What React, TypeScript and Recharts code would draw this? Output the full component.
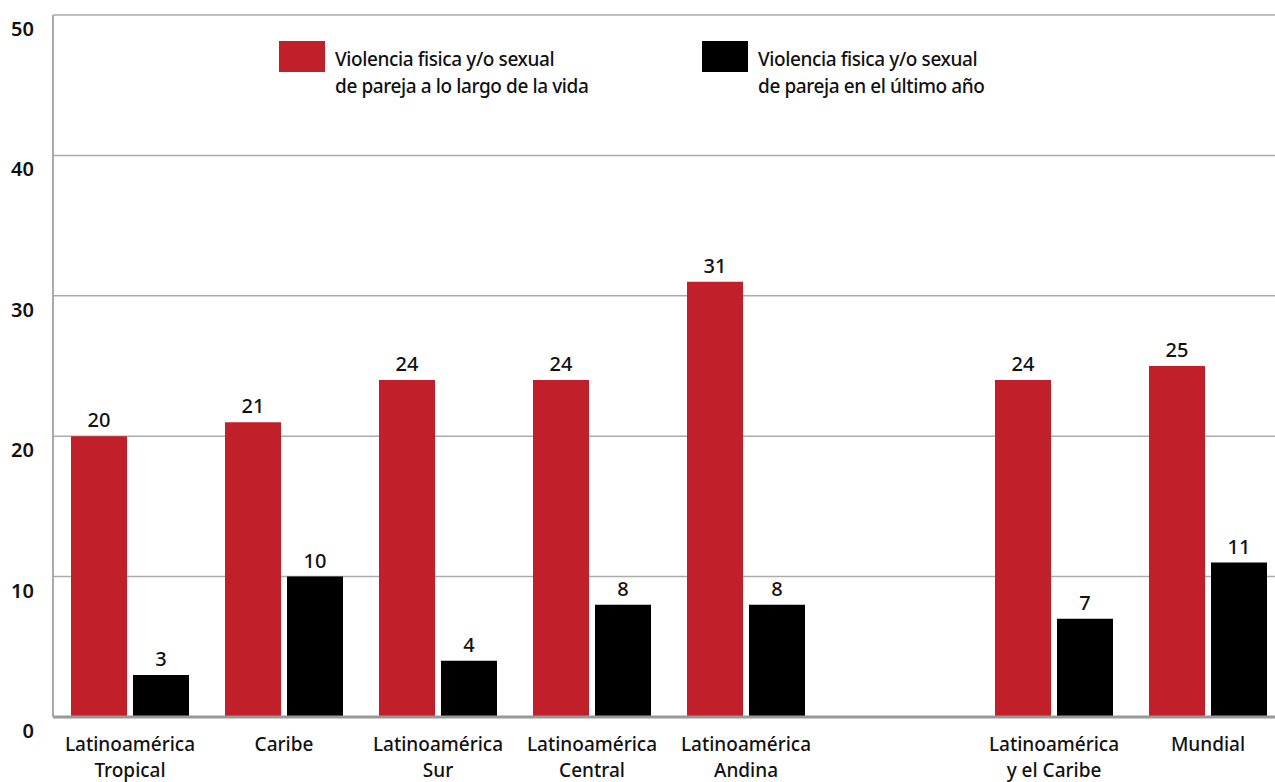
import React from "react";
import { BarChart, Bar, XAxis, YAxis, CartesianGrid, LabelList } from "recharts";

const categories = [
  "Latinoamérica\nTropical",
  "Caribe",
  "Latinoamérica\nSur",
  "Latinoamérica\nCentral",
  "Latinoamérica\nAndina",
  "",
  "Latinoamérica\ny el Caribe",
  "Mundial",
];
const lifetimeValues = [20, 21, 24, 24, 31, null, 24, 25];
const lastYearValues = [3, 10, 4, 8, 8, null, 7, 11];
const yTicks = [0, 10, 20, 30, 40, 50];

const seriesNames = [
  "Violencia fisica y/o sexual\nde pareja a lo largo de la vida",
  "Violencia fisica y/o sexual\nde pareja en el último año",
];

const RED = "#C1202A";
const FONT = "'Noto Sans', sans-serif";

const data = categories.map((name, i) => ({
  name,
  vida: lifetimeValues[i],
  anio: lastYearValues[i],
}));

const CategoryTick = (props: any) => {
  const { x, y, payload } = props;
  const lines = String(payload.value).split("\n");
  return (
    <text x={x} y={y + 26} textAnchor="middle" fontFamily={FONT} fontSize={19} fontWeight={500} fill="#111">
      {lines.map((l, i) => (
        <tspan key={i} x={x} dy={i === 0 ? 0 : 26}>
          {l}
        </tspan>
      ))}
    </text>
  );
};

const ValueTick = (props: any) => {
  const { y, payload } = props;
  return (
    <text x={34} y={y + 21} textAnchor="end" fontFamily={FONT} fontSize={20} fontWeight={600} fill="#111">
      {payload.value}
    </text>
  );
};

const LegendItem = ({ color, label, left }: { color: string; label: string; left: number }) => (
  <div style={{ position: "absolute", left, top: 41, display: "flex", alignItems: "flex-start" }}>
    <div style={{ width: 46, height: 31, background: color }} />
    <div
      style={{
        marginLeft: 10,
        marginTop: 5,
        fontFamily: FONT,
        fontSize: 19,
        fontWeight: 500,
        lineHeight: "27px",
        letterSpacing: -0.4,
        color: "#111",
        whiteSpace: "pre",
      }}
    >
      {label}
    </div>
  </div>
);

export default function App() {
  return (
    <div style={{ position: "fixed", left: 0, top: 0, width: 1275, height: 782, overflow: "hidden", background: "#fff" }}>
      <BarChart
        width={1290}
        height={782}
        data={data}
        margin={{ top: 15, right: 5, left: 0, bottom: 0 }}
        barCategoryGap={18}
        barGap={6}
      >
        <CartesianGrid vertical={false} stroke="#ababab" strokeWidth={1.5} />
        <XAxis
          dataKey="name"
          interval={0}
          height={65}
          tick={<CategoryTick />}
          tickLine={false}
          axisLine={{ stroke: "#999", strokeWidth: 3 }}
        />
        <YAxis
          domain={[0, 50]}
          ticks={yTicks}
          width={53}
          tick={<ValueTick />}
          tickLine={false}
          axisLine={{ stroke: "#aaa", strokeWidth: 2 }}
        />
        <Bar dataKey="vida" fill={RED} isAnimationActive={false}>
          <LabelList dataKey="vida" position="top" offset={9} fontFamily={FONT} fontSize={20} fontWeight={500} fill="#111" />
        </Bar>
        <Bar dataKey="anio" fill="#000" isAnimationActive={false}>
          <LabelList dataKey="anio" position="top" offset={9} fontFamily={FONT} fontSize={20} fontWeight={500} fill="#111" />
        </Bar>
      </BarChart>
      <LegendItem color={RED} label={seriesNames[0]} left={279} />
      <LegendItem color="#000" label={seriesNames[1]} left={702} />
    </div>
  );
}
